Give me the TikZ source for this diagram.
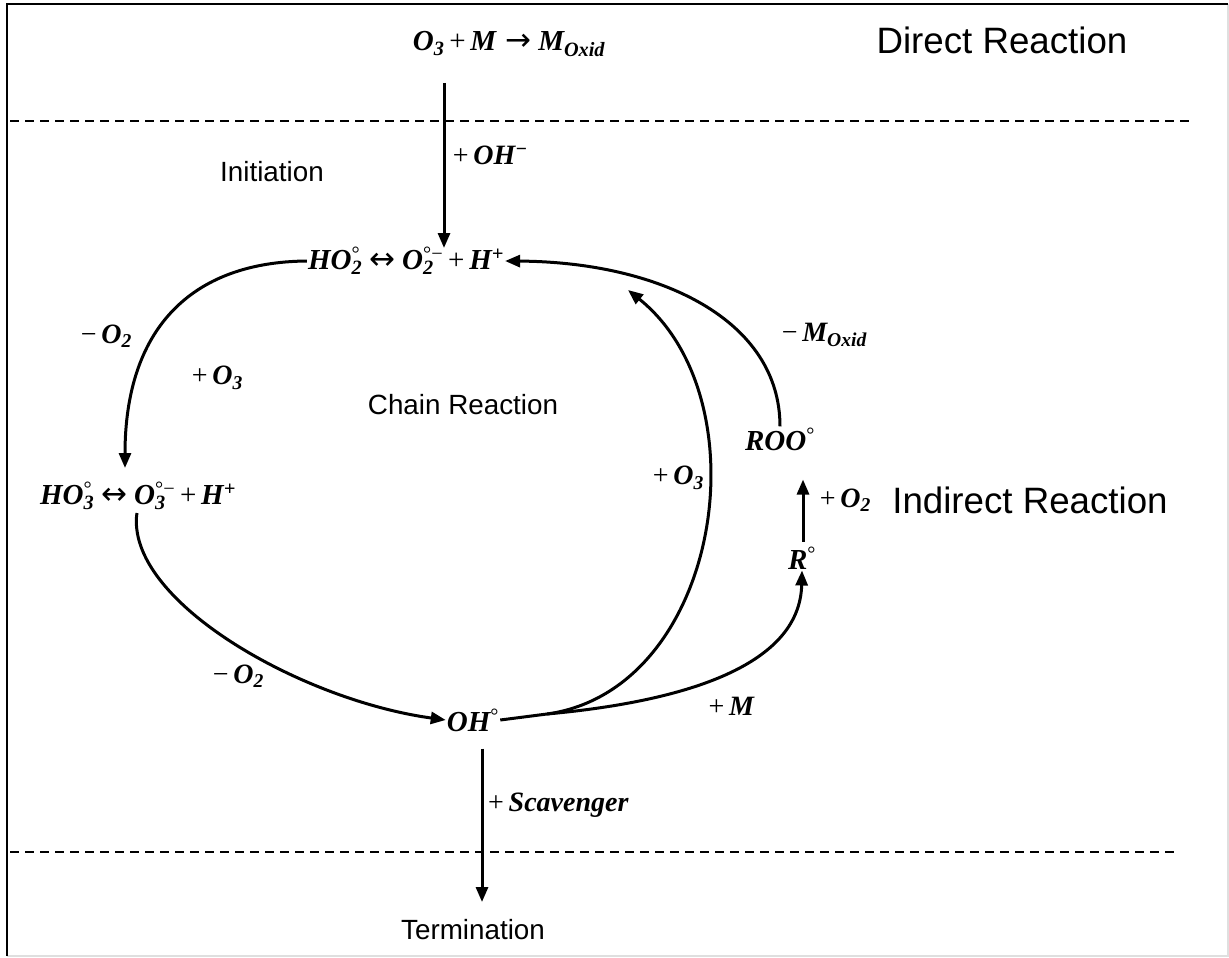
\documentclass[tikz,border=0pt]{standalone}
\usepackage{fontspec}
\setmainfont{Liberation Serif}
\newfontfamily\arialfont{Liberation Sans}
\newfontfamily\arrowfont{DejaVu Sans}
\usetikzlibrary{arrows.meta}

% operators upright and light, sub/superscripts stacked
\newcommand{\op}[1]{{\mdseries\upshape\,#1\,}}
\newcommand{\arr}[1]{\hspace{9pt}{\arrowfont\mdseries\upshape\fontsize{31}{31}\selectfont #1}\hspace{7pt}}
\newcommand{\subsup}[2]{\rlap{\textsubscript{#1}}\textsuperscript{#2}}
\newcommand{\rad}{\textsuperscript{\mdseries\upshape°}}

\tikzset{
  species/.style={inner sep=1pt, font=\fontsize{29}{34}\selectfont\bfseries\itshape},
  steplabel/.style={inner sep=1pt, font=\fontsize{28}{32}\selectfont\bfseries\itshape},
  zone/.style={inner sep=0pt, font=\fontsize{36.7}{42}\selectfont\arialfont},
  stage/.style={inner sep=0pt, font=\fontsize{27.8}{32}\selectfont\arialfont},
  react/.style={->, line width=3pt},
  border/.style={line width=1.5pt, dash pattern=on 9pt off 6pt}
}

\begin{document}
\begin{tikzpicture}[x=1pt, y=-1pt, >={Triangle[length=15pt,width=12pt]}]
    \useasboundingbox (0,0) rectangle (1229,958);

    % Frame
    \draw[gray!25, line width=1.5pt] (1228,4) -- (1228,956) -- (7,956);
    \draw[line width=2.5pt] (7,956) -- (7,4) -- (1228,4);

    % Zone borders
    \draw[border] (10,121) -- (1190,121);
    \draw[border] (10,852) -- (1176,852);

    % Texts
    \node (direct) [zone] at (1002,40) {Direct Reaction};
    \node (indirect) [zone] at (1030,500) {Indirect Reaction};
    \node (init) [stage] at (272,172) {Initiation};
    \node (chain) [stage] at (463,405) {Chain Reaction};
    \node (term) [stage] at (473,930) {Termination};

    % Species
    \node (ozone) [species] at (509,44) {O\textsubscript{3}\op{+}M\arr{→}M\textsubscript{Oxid}};
    \node (ho2) [species] at (406,261) {HO\subsup{2}{\mdseries\upshape°}\arr{↔}O\subsup{2}{\mdseries\upshape°−}\op{+}H\textsuperscript{+}};
    \node (ho3) [species] at (138,496) {HO\subsup{3}{\mdseries\upshape°}\arr{↔}O\subsup{3}{\mdseries\upshape°−}\op{+}H\textsuperscript{+}};
    \node (oh) [species] at (473,720) {OH\rad};
    \node (r) [species] at (802,558) {R\rad};
    \node (roo) [species] at (780,439) {ROO\rad};

    \coordinate (split) at (547,714);
    \coordinate (o3tip) at (628,290);

    % Arrows for the reactions
    \draw[react] (444,83) -- (444,248);
    \draw[react] (ho2.west) .. controls (190,262) and (125,330) .. (125,468);
    \draw[react] (ho3.south west) ++(98,2) .. controls (125,600) and (300,700) .. (oh.west);
    \draw[line width=3pt] (oh.east) -- (split);
    \draw[react] (split) .. controls (700,700) and (800,660) .. (r.south);
    \draw[react] (split) .. controls (720,690) and (765,400) .. (o3tip);
    \draw[react] (r.north) ++(1,-4) -- ++(0,-62);
    \draw[react] (roo.north) .. controls (780,320) and (660,262) .. (ho2.east);
    \draw[react] (oh.south) ++(9,16) -- (482,902);

    % Labels on the arrows
    \node (loh) [steplabel] at (488,155) {\op{+}OH\textsuperscript{−}};
    \node (lo2a) [steplabel] at (104,336) {\op{−}O\textsubscript{2}};
    \node (lo3a) [steplabel] at (215,378) {\op{+}O\textsubscript{3}};
    \node (lo2b) [steplabel] at (236,676) {\op{−}O\textsubscript{2}};
    \node (lo3b) [steplabel] at (676,478) {\op{+}O\textsubscript{3}};
    \node (lmox) [steplabel] at (822,335) {\op{−}M\textsubscript{Oxid}};
    \node (lo2c) [steplabel] at (843,500) {\op{+}O\textsubscript{2}};
    \node (lm) [steplabel] at (729,706) {\op{+}M};
    \node (lscav) [steplabel] at (556,805) {\op{+}Scavenger};

\end{tikzpicture}
\end{document}
